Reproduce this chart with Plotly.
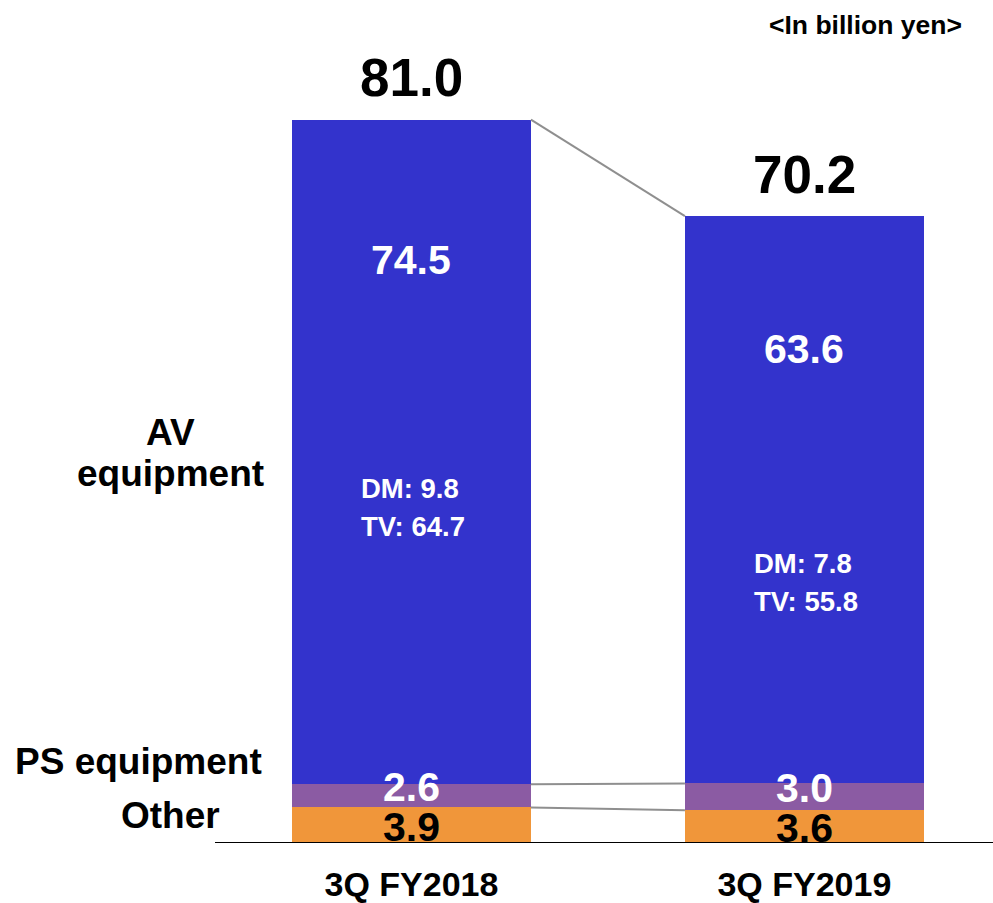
import plotly.graph_objects as go

categories = ["3Q FY2018", "3Q FY2019"]
other_vals = [3.9, 3.6]
ps_vals = [2.6, 3.0]
av_vals = [74.5, 63.6]
totals = [81.0, 70.2]
dm_vals = [9.8, 7.8]
tv_vals = [64.7, 55.8]

W, H = 993, 903
BAR_W = 0.608
PX_PER_UNIT = 8.96
BASE = 846
xs = list(range(len(categories)))
FONT = "Liberation Sans, Arial, sans-serif"


def ydata(ref_px):
    return (BASE - ref_px) / PX_PER_UNIT


fig = go.Figure()
colors = {"Other": "#F0963A", "PS": "#8B5BA3", "AV": "#3333CC"}
fig.add_bar(x=xs, y=other_vals, width=BAR_W, marker=dict(color=colors["Other"], line=dict(width=0)), name="Other")
fig.add_bar(x=xs, y=ps_vals, width=BAR_W, marker=dict(color=colors["PS"], line=dict(width=0)), name="PS")
fig.add_bar(x=xs, y=av_vals, width=BAR_W, marker=dict(color=colors["AV"], line=dict(width=0)), name="AV")

cum_other = other_vals
cum_ps = [o + p for o, p in zip(other_vals, ps_vals)]
for series in (cum_other, cum_ps, totals):
    fig.add_scatter(x=[xs[0] + BAR_W / 2, xs[1] - BAR_W / 2], y=series, mode="lines",
                    line=dict(color="#8f8f8f", width=2), hoverinfo="skip")

ann = []


def a(x, y, text, size, color, **kw):
    d = dict(x=x, y=y, text=f"<b>{text}</b>", yanchor="middle", showarrow=False,
             font=dict(size=size, color=color, family=FONT))
    d.update(kw)
    ann.append(d)


for i, x in enumerate(xs):
    a(x, totals[i], f"{totals[i]:.1f}", 53, "black", yshift=42)
    a(x, other_vals[i] / 2 - 0.2, f"{other_vals[i]:.1f}", 41, "black")
    a(x, other_vals[i] + ps_vals[i] / 2 + 1.0, f"{ps_vals[i]:.1f}", 41, "white")

av_label_px = [261, 351]
dm_px = [491, 566]
tv_px = [529, 604]
for i, x in enumerate(xs):
    a(x, ydata(av_label_px[i]), f"{av_vals[i]:.1f}", 41, "white")
    a(x, ydata(dm_px[i]), f"DM: {dm_vals[i]:.1f}", 27.5, "white", xanchor="left", xshift=-52)
    a(x, ydata(tv_px[i]), f"TV: {tv_vals[i]:.1f}", 27.5, "white", xanchor="left", xshift=-52)


def px(xp):
    return xp / W


def py(yp):
    return (H - yp) / H


side = [("AV", 170, 434), ("equipment", 170, 476), ("PS equipment", 138, 765), ("Other", 170, 819)]
for txt, xp, yp in side:
    a(px(xp), py(yp), txt, 37, "black", xref="paper", yref="paper", xanchor="center")
a(px(865), py(25), "&lt;In billion yen&gt;", 26.5, "black", xref="paper", yref="paper", xanchor="center")

fig.update_layout(
    width=W, height=H, barmode="stack", showlegend=False,
    margin=dict(l=0, r=0, t=0, b=0),
    paper_bgcolor="white", plot_bgcolor="white",
    bargap=0,
    annotations=ann,
    font=dict(family=FONT, color="black"),
    xaxis=dict(domain=[215 / W, 1], range=[-0.5, 1.48], tickvals=xs,
               ticktext=[f"<b>{c}</b>" for c in categories],
               showgrid=False, zeroline=False, showline=True, linecolor="black", linewidth=1,
               ticks="", tickfont=dict(size=34, color="black", family=FONT)),
    yaxis=dict(domain=[(H - BASE) / H, 1], range=[0, BASE / PX_PER_UNIT], visible=False,
               showgrid=False, zeroline=False),
)
fig.update_xaxes(ticklabelstandoff=12)
fig.write_html("out.html", config={"displayModeBar": False},
               post_script="document.body.style.margin='0';")
